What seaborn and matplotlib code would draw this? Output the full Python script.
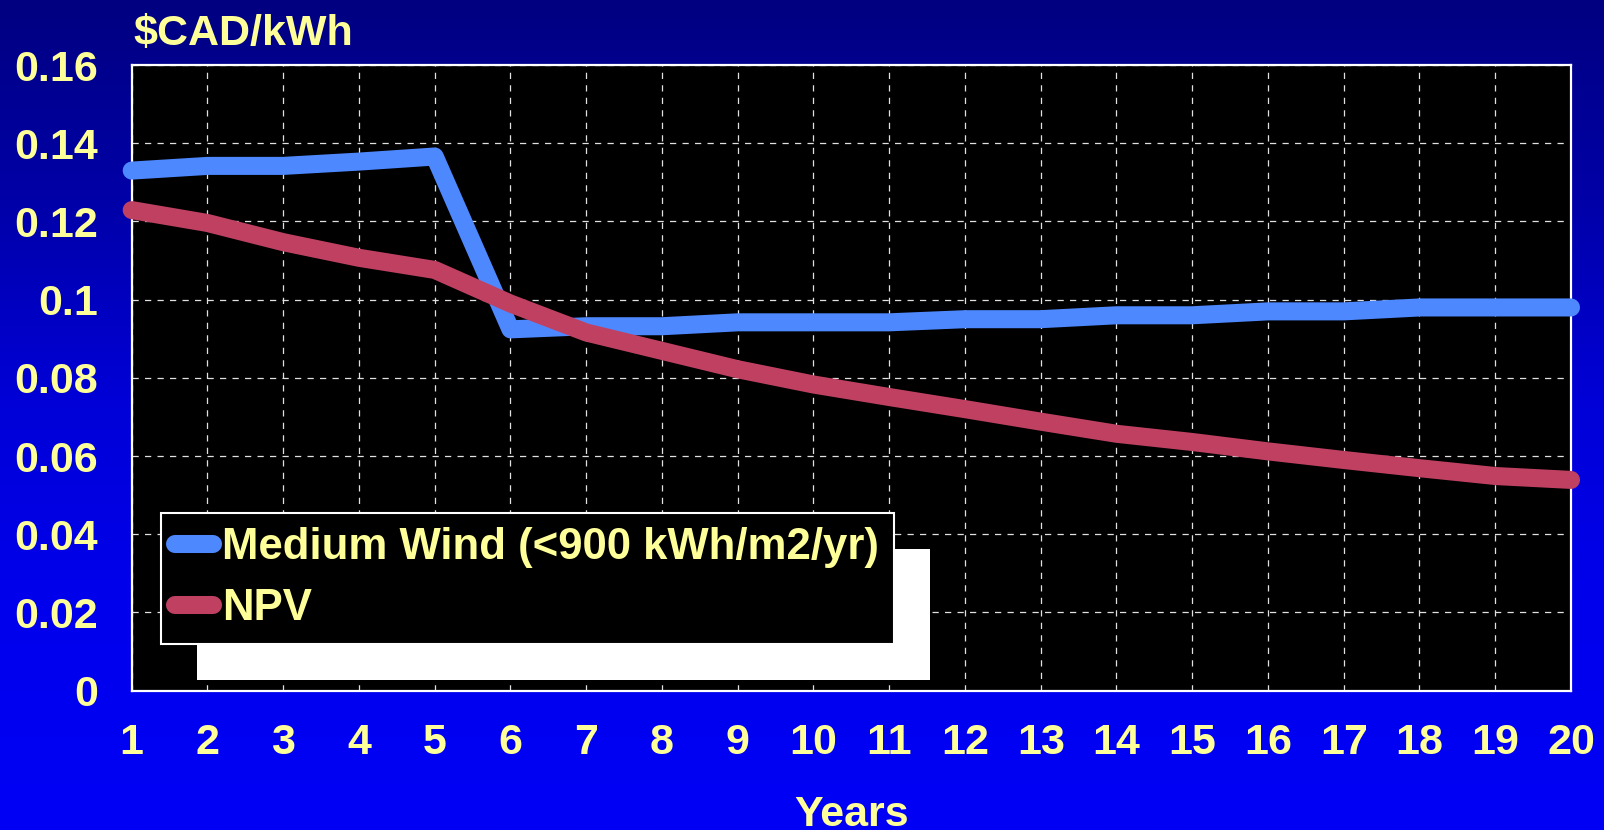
import numpy as np
import pandas as pd
import matplotlib
matplotlib.use("Agg")
import matplotlib.pyplot as plt
import seaborn as sns
from matplotlib.patches import Rectangle
from matplotlib.ticker import FuncFormatter, MultipleLocator

# ---------------- data ----------------
years = [1, 2, 3, 4, 5, 6, 7, 8, 9, 10, 11, 12, 13, 14, 15, 16, 17, 18, 19, 20]
medium_wind = [0.1330, 0.1342, 0.1342, 0.1353, 0.1366, 0.0924, 0.0932, 0.0932, 0.0942, 0.0942,
               0.0942, 0.0950, 0.0950, 0.0960, 0.0960, 0.0970, 0.0970, 0.0980, 0.0980, 0.0980]
npv = [0.1229, 0.1196, 0.1147, 0.1107, 0.1076, 0.0990, 0.0916, 0.0869, 0.0822, 0.0783,
       0.0751, 0.0720, 0.0688, 0.0657, 0.0636, 0.0612, 0.0590, 0.0569, 0.0549, 0.0539]
series_names = ["Medium Wind (<900 kWh/m2/yr)", "NPV"]
series_colors = ["#4d88ff", "#c04062"]
y_label = r"\$CAD/kWh"
x_label = "Years"

df = pd.DataFrame({
    "Year": years * 2,
    "Value": medium_wind + npv,
    "Series": [series_names[0]] * len(years) + [series_names[1]] * len(years),
})

# ---------------- style ----------------
sns.set_theme(style="dark")
plt.rcParams["font.family"] = ["Liberation Sans", "DejaVu Sans"]
plt.rcParams["font.weight"] = "bold"
TXT = "#ffff99"

W, H = 1604, 830
fig = plt.figure(figsize=(W / 100, H / 100), dpi=100)

# gradient background
bg = fig.add_axes([0, 0, 1, 1], zorder=-10)
stops_y = np.array([0, 200, 400, 600, 830]) / 830.0
stops_b = np.array([128, 168, 215, 236, 246]) / 255.0
yy = np.linspace(0, 1, 400)
bvals = np.interp(yy, stops_y, stops_b)
grad = np.zeros((400, 1, 3))
grad[:, 0, 2] = bvals
bg.imshow(grad, aspect="auto", extent=[0, 1, 1, 0], interpolation="bilinear")
bg.set_xlim(0, 1)
bg.set_ylim(1, 0)
bg.axis("off")

left, right = 131.7 / W, 1571 / W
bottom, top = 1 - 690.7 / H, 1 - 65 / H
ax = fig.add_axes([left, bottom, right - left, top - bottom])
ax.set_facecolor("black")

sns.lineplot(data=df, x="Year", y="Value", hue="Series", palette=series_colors,
             hue_order=series_names, lw=13, solid_capstyle="round",
             solid_joinstyle="round", clip_on=False, legend=False, ax=ax, zorder=3)

ax.set_xlim(1, 20)
ax.set_ylim(0, 0.16)
ax.set_xticks(years)
ax.yaxis.set_major_locator(MultipleLocator(0.02))
ax.yaxis.set_major_formatter(FuncFormatter(lambda v, p: f"{v:g}"))
ax.set_xlabel("")
ax.set_ylabel("")

ax.grid(True, color="#e0e0e0", lw=0.9, linestyle=(0, (5, 5)))
ax.tick_params(axis="both", length=0, labelsize=31, labelcolor=TXT)
ax.tick_params(axis="x", pad=23.5)
ax.tick_params(axis="y", pad=24)
for lab in ax.get_xticklabels() + ax.get_yticklabels():
    lab.set_fontweight("bold")
for s in ax.spines.values():
    s.set_visible(True)
    s.set_color("white")
    s.set_linewidth(1.6)

fig.text(133 / W, 1 - 45.5 / H, y_label, ha="left", va="baseline",
         fontsize=31, fontweight="bold", color=TXT)
fig.text((left + right) / 2, 1 - 826 / H, x_label, ha="center", va="baseline",
         fontsize=31, fontweight="bold", color=TXT)

# legend
handles = ax.get_lines()[:2]
leg = ax.legend(handles, series_names, loc="upper left",
                bbox_to_anchor=(161 / W, 1 - 513 / H), bbox_transform=fig.transFigure,
                borderaxespad=0, fontsize=31.5, frameon=True, fancybox=False,
                borderpad=0.33, labelspacing=0.45, handlelength=0.85, handletextpad=0.22)
leg.get_frame().set_facecolor("black")
leg.get_frame().set_edgecolor("white")
leg.get_frame().set_linewidth(1.5)
leg.get_frame().set_alpha(1)
for t in leg.get_texts():
    t.set_color(TXT)
    t.set_fontweight("bold")
for l in leg.get_lines():
    l.set_linewidth(13)
    l.set_solid_capstyle("round")

fig.canvas.draw()
bb = leg.get_window_extent()
inv = ax.transAxes.inverted()
(x0, y0) = inv.transform((bb.x0 + 36, bb.y0 - 36))
(x1, y1) = inv.transform((bb.x1 + 36, bb.y1 - 36))
ax.add_patch(Rectangle((x0, y0), x1 - x0, y1 - y0, transform=ax.transAxes,
                       facecolor="white", edgecolor="none", zorder=4, clip_on=False))

fig.savefig("out.png", dpi=100, facecolor=fig.get_facecolor())
